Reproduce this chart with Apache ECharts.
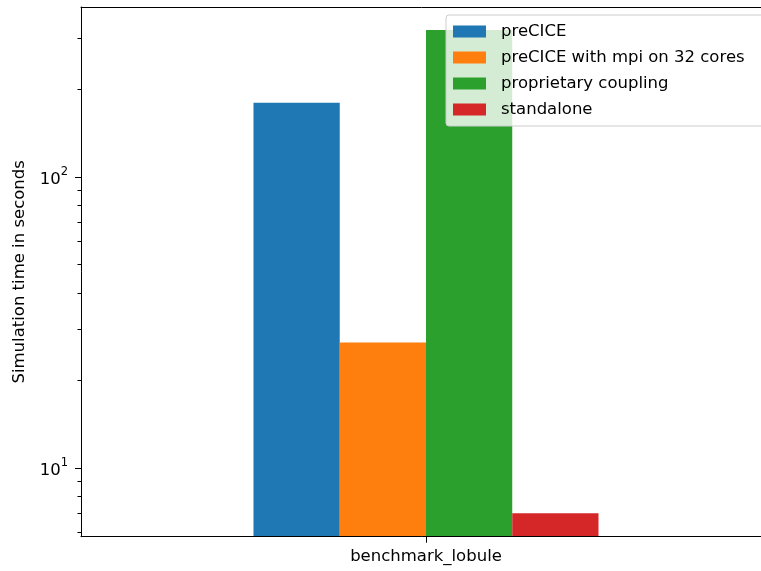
<!DOCTYPE html>
<html>
<head>
<meta charset="utf-8">
<script src="https://cdn.jsdelivr.net/npm/echarts@6/dist/echarts.min.js"></script>
<style>
  html, body { margin: 0; padding: 0; background: #ffffff; }
  #chart { width: 761px; height: 571px; }
</style>
</head>
<body>
<div id="chart"></div>
<script>
// Benchmark categories and simulation times (seconds, log scale)
const categories = ['benchmark_lobule'];
const seriesNames = ['preCICE', 'preCICE with mpi on 32 cores', 'proprietary coupling', 'standalone'];
const preciceTimes = [180];
const preciceMpiTimes = [27];
const proprietaryTimes = [320];
const standaloneTimes = [7.0];
const seriesColors = ['#1f77b4', '#ff7f0e', '#2ca02c', '#d62728'];

// Log axis range and tick positions
const yMin = 5.81;
const yMax = 384;
const majorTicks = [10, 100];
const minorTicks = [6, 7, 8, 9, 20, 30, 40, 50, 60, 70, 80, 90, 200, 300];

const FONT = 'DejaVu Sans';
const FS = 16.5;

const seriesValues = [preciceTimes, preciceMpiTimes, proprietaryTimes, standaloneTimes];

const chart = echarts.init(document.getElementById('chart'), null, { renderer: 'canvas' });

chart.setOption({
  animation: false,
  backgroundColor: '#ffffff',
  textStyle: { fontFamily: FONT },
  grid: {
    left: 81, top: 7, width: 690, bottom: 34.3,
    outerBoundsMode: 'none',
    containLabel: false,
    show: false
  },
  legend: {
    orient: 'vertical',
    left: 446, top: 15,
    padding: [8, 24, 8, 7],
    itemGap: 9,
    itemWidth: 33, itemHeight: 12,
    icon: 'rect',
    backgroundColor: 'rgba(255,255,255,0.8)',
    borderColor: '#cccccc', borderWidth: 1, borderRadius: 3,
    textStyle: { fontFamily: FONT, fontSize: FS, color: '#000000', lineHeight: 14, padding: [0, 0, 0, 10] },
    data: seriesNames
  },
  xAxis: [
    {
      type: 'category',
      data: categories,
      z: 10,
      axisLine: { onZero: false, lineStyle: { color: '#000000', width: 1 } },
      axisTick: { show: false },
      axisLabel: { fontFamily: FONT, fontSize: FS, color: '#000000', margin: 12 },
      splitLine: { show: false }
    },
    {
      // top frame line
      type: 'category',
      data: categories,
      position: 'top',
      z: 10,
      axisLine: { show: true, onZero: false, lineStyle: { color: '#000000', width: 1 } },
      axisTick: { show: false },
      axisLabel: { show: false },
      splitLine: { show: false }
    },
    {
      // tick mark under the category centre (category index 0 spans -0.5..0.5)
      type: 'value',
      min: -0.5, max: 0.5,
      position: 'bottom',
      z: 10,
      axisLine: { show: false, onZero: false },
      axisTick: { show: true, length: 6, customValues: [0], lineStyle: { color: '#000000' } },
      axisLabel: { show: false },
      splitLine: { show: false }
    }
  ],
  yAxis: [
    {
      type: 'log',
      min: yMin, max: yMax,
      position: 'left',
      z: 10,
      name: 'Simulation time in seconds',
      nameLocation: 'middle',
      nameGap: 53,
      nameTextStyle: { fontFamily: FONT, fontSize: FS, color: '#000000' },
      axisLine: { show: true, onZero: false, lineStyle: { color: '#000000', width: 1 } },
      axisTick: { show: true, length: 6, customValues: majorTicks, lineStyle: { color: '#000000' } },
      axisLabel: {
        margin: 13,
        customValues: majorTicks,
        formatter: function (v) {
          return '{b|10}{s|' + Math.round(Math.log10(v)) + '}';
        },
        rich: {
          b: { fontFamily: FONT, fontSize: FS, color: '#000000', lineHeight: 22, verticalAlign: 'bottom' },
          s: { fontFamily: FONT, fontSize: 11.5, color: '#000000', lineHeight: 13, verticalAlign: 'top' }
        }
      },
      splitLine: { show: false }
    },
    {
      type: 'log',
      min: yMin, max: yMax,
      position: 'left',
      offset: 0,
      z: 10,
      axisLine: { show: false, onZero: false },
      axisTick: { show: true, length: 3.5, customValues: minorTicks, lineStyle: { color: '#000000' } },
      axisLabel: { show: false },
      splitLine: { show: false }
    }
  ],
  series: seriesNames.map(function (name, i) {
    return {
      name: name,
      type: 'bar',
      xAxisIndex: 0,
      yAxisIndex: 0,
      data: seriesValues[i],
      itemStyle: { color: seriesColors[i] },
      barGap: '0%',
      barCategoryGap: '50%',
      clip: true
    };
  })
});
</script>
</body>
</html>
